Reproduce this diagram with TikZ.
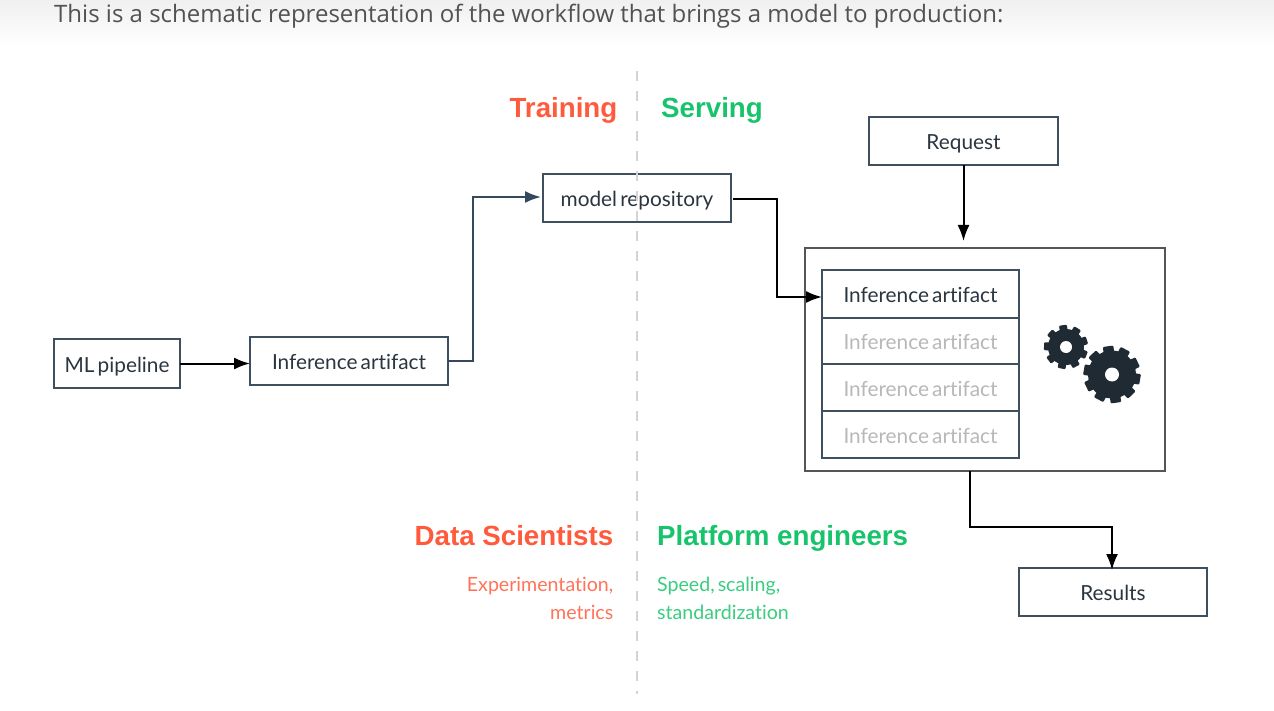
\documentclass[tikz,border=0pt]{standalone}
\usepackage{fontspec}
\setmainfont{Lato}[Ligatures=NoCommon,WordSpace=0.6]
\newfontfamily\topfont{Open Sans}
\newfontfamily\headfont{Liberation Sans}[BoldFont={Liberation Sans Bold}]
\usetikzlibrary{arrows.meta}
\definecolor{boxline}{HTML}{3F4F5E}
\definecolor{outerline}{HTML}{555555}
\definecolor{linkdark}{HTML}{34495E}
\definecolor{redtxt}{HTML}{FF5A3C}
\definecolor{greentxt}{HTML}{17C46B}
\definecolor{gearcol}{HTML}{1F2A33}
\definecolor{boxtxt}{HTML}{2B3540}
\newcommand{\gearshape}[6]{%
  \fill[gearcol] (#1,#2) circle (#3);
  \foreach \ga in {1,...,#6}{
    \fill[gearcol,rounded corners=1pt,rotate around={\ga*360/#6+8:(#1,#2)}]
      (#1-#3*0.22,#2) rectangle (#1+#3*0.22,#2-#4);
  }
  \fill[white] (#1,#2) circle (#5);
}
\tikzset{
  x=1pt,y=-1pt,
  box/.style={draw=boxline,line width=1.9pt,inner sep=0pt,outer sep=0pt,font=\fontsize{20.8}{24}\selectfont,text=boxtxt,text height=21pt,text depth=4pt},
  faded/.style={box,text=black!28},
  link/.style={line width=2pt,draw=linkdark,-{Latex[length=16pt,width=12pt]},line join=miter},
  blink/.style={line width=2pt,draw=black,-{Latex[length=16pt,width=12pt]},line join=miter},
  head/.style={inner sep=0pt,font=\headfont\bfseries\fontsize{27.7}{34}\selectfont},
  sub/.style={inner sep=0pt,font=\fontsize{19.6}{24}\selectfont},
}
\begin{document}
\begin{tikzpicture}
\useasboundingbox (0,0) rectangle (1274,711);
\fill[white] (0,0) rectangle (1274,711);
\shade[top color=black!6,bottom color=white] (0,0) rectangle (1274,46);
\node[anchor=base west,inner sep=0pt,text=black!68,font=\topfont\fontsize{24}{30}\selectfont] (intro) at (54,23) {This is a schematic representation of the workflow that brings a model to production:};

\node[box,minimum width=126pt,minimum height=49pt] (ml) at (117,363.5) {ML pipeline};
\node[box,minimum width=198pt,minimum height=48pt] (art) at (349,361) {Inference artifact};
\node[box,minimum width=188pt,minimum height=48pt] (repo) at (637,198) {model repository};
\node[box,minimum width=189pt,minimum height=48pt] (req) at (963.5,141) {Request};
\node[draw=outerline,line width=1.9pt,inner sep=0pt,outer sep=0pt,minimum width=360pt,minimum height=223pt] (outer) at (985,359.5) {};
\node[box,minimum width=197pt,minimum height=48pt] (a1) at (920.5,294) {Inference artifact};
\node[faded,minimum width=197pt,minimum height=46pt] (a2) at (920.5,341) {Inference artifact};
\node[faded,minimum width=197pt,minimum height=47pt] (a3) at (920.5,387.5) {Inference artifact};
\node[faded,minimum width=197pt,minimum height=47pt] (a4) at (920.5,434.5) {Inference artifact};
\node[box,minimum width=188pt,minimum height=48pt] (res) at (1113,592) {Results};

\gearshape{1066}{347}{18}{22}{6}{9}
\gearshape{1112}{374.5}{24}{28.5}{7}{10}

\coordinate (k1) at (473,361);
\coordinate (k2) at (473,197);
\coordinate (k3) at (777,199);
\coordinate (k4) at (777,297);
\coordinate (k5) at (970,527);
\coordinate (k6) at (1112,527);
\draw[blink] (ml.east) -- (art.west|-ml.east);
\draw[link] (art.east) -- (k1) -- (k2) -- ([xshift=-2pt]repo.west|-k2);
\draw[blink] ([xshift=2pt]repo.east|-k3) -- (k3) -- (k4) -- (a1.west|-k4);
\draw[blink,shorten >=7pt] (req.south) -- (outer.north-|req.south);
\draw[blink] ([xshift=-15pt]outer.south) -- (k5) -- (k6) -- ([yshift=-2pt]k6|-res.north);

\draw[black!17,line width=1.7pt,dash pattern=on 10pt off 10pt] (637,71) coordinate (d1) -- (637,694) coordinate (d2);

\node[head,anchor=base east,text=redtxt] (train) at (617.5,117.5) {Training};
\node[head,anchor=base west,text=greentxt] (serve) at (661,117.5) {Serving};
\node[head,anchor=base east,text=redtxt] (ds) at (613.5,545.5) {Data Scientists};
\node[head,anchor=base west,text=greentxt] (pe) at (657,545.5) {Platform engineers};
\node[sub,anchor=base east,text=redtxt!85!white] (exp) at (613.5,591) {Experimentation,};
\node[sub,anchor=base east,text=redtxt!85!white] (met) at (613.5,619) {metrics};
\node[sub,anchor=base west,text=greentxt!85!white] (spd) at (657,591) {Speed, scaling,};
\node[sub,anchor=base west,text=greentxt!85!white] (std) at (657,619) {standardization};
\end{tikzpicture}
\end{document}
